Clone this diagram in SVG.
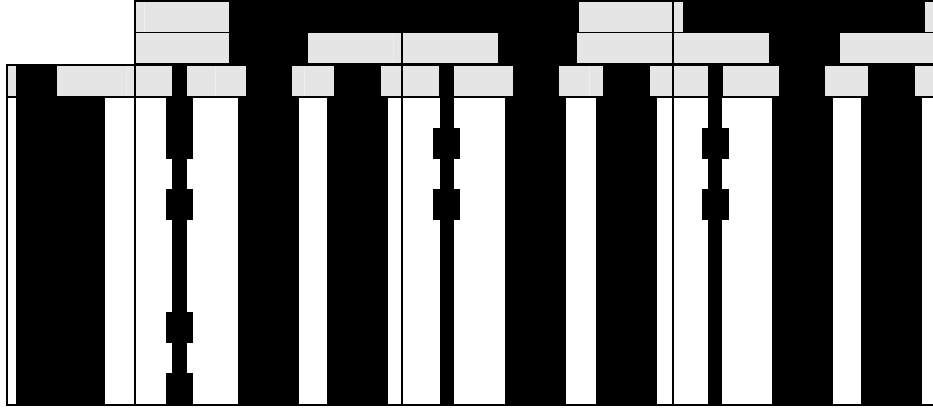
<svg xmlns="http://www.w3.org/2000/svg" width="933" height="408" viewBox="0 0 933 408">
<style>
.k{fill:#000}
.g{fill:#e5e5e5}
.s{stroke:#eeeeee;stroke-width:1}
</style>
<rect width="933" height="408" fill="#fff"/>
<g id="header">
<rect class="k" x="134" y="0" width="799" height="64"/>
<rect class="k" x="6" y="64" width="927" height="34"/>
<g id="row1">
<rect class="g" x="136" y="2" width="93" height="30"/>
<rect class="g" x="579" y="2" width="93" height="30"/>
<rect class="g" x="674" y="2" width="9" height="30"/>
<rect class="g" x="925" y="2" width="8" height="30"/>
</g>
<g id="row2">
<rect class="g" x="136" y="33" width="93" height="30"/>
<rect class="g" x="308" y="33" width="93" height="30"/>
<rect class="g" x="403" y="33" width="95" height="30"/>
<rect class="g" x="577" y="33" width="95" height="30"/>
<rect class="g" x="674" y="33" width="95" height="30"/>
<rect class="g" x="840" y="33" width="93" height="30"/>
</g>
<g id="row3">
<rect class="g" x="8" y="66" width="8" height="30"/>
<rect class="g" x="57" y="66" width="77" height="30"/>
<rect class="g" x="136" y="66" width="36" height="30"/>
<rect class="g" x="187" y="66" width="59" height="30"/>
<rect class="g" x="292" y="66" width="42" height="30"/>
<rect class="g" x="381" y="66" width="20" height="30"/>
<rect class="g" x="403" y="66" width="36" height="30"/>
<rect class="g" x="454" y="66" width="59" height="30"/>
<rect class="g" x="559" y="66" width="44" height="30"/>
<rect class="g" x="650" y="66" width="22" height="30"/>
<rect class="g" x="674" y="66" width="34" height="30"/>
<rect class="g" x="723" y="66" width="56" height="30"/>
<rect class="g" x="825" y="66" width="43" height="30"/>
<rect class="g" x="915" y="66" width="18" height="30"/>
</g>
<g id="shades">
<line class="s" x1="144.5" y1="2" x2="144.5" y2="32"/>
<line class="s" x1="126.5" y1="66" x2="126.5" y2="96"/>
<line class="s" x1="215.5" y1="66" x2="215.5" y2="96"/>
<line class="s" x1="304.5" y1="66" x2="304.5" y2="96"/>
<line class="s" x1="393.5" y1="33" x2="393.5" y2="63"/>
<line class="s" x1="589.5" y1="66" x2="589.5" y2="96"/>
</g>
</g>
<g id="body">
<rect class="k" x="16" y="98" width="89" height="306"/>
<rect class="k" x="238" y="98" width="61" height="306"/>
<rect class="k" x="327" y="98" width="61" height="306"/>
<rect class="k" x="505" y="98" width="61" height="306"/>
<rect class="k" x="596" y="98" width="61" height="306"/>
<rect class="k" x="772" y="98" width="61" height="306"/>
<rect class="k" x="861" y="98" width="61" height="306"/>
</g>
<g id="chain1">
<rect class="k" x="172" y="98" width="15" height="306"/>
<rect class="k" x="166" y="98" width="27" height="61"/>
<rect class="k" x="166" y="189" width="27" height="31"/>
<rect class="k" x="166" y="312" width="27" height="31"/>
<rect class="k" x="166" y="373" width="27" height="31"/>
</g>
<g id="chain2">
<rect class="k" x="440" y="98" width="14" height="306"/>
<rect class="k" x="433" y="128" width="27" height="31"/>
<rect class="k" x="433" y="189" width="27" height="31"/>
</g>
<g id="chain3">
<rect class="k" x="708" y="98" width="14" height="306"/>
<rect class="k" x="702" y="128" width="27" height="31"/>
<rect class="k" x="702" y="189" width="27" height="31"/>
</g>
<g id="borders">
<rect class="k" x="134" y="0" width="2" height="406"/>
<rect class="k" x="401" y="33" width="2" height="373"/>
<rect class="k" x="672" y="0" width="2" height="406"/>
<rect class="k" x="6" y="64" width="2" height="342"/>
<rect class="k" x="6" y="404" width="927" height="2"/>
</g>
</svg>
